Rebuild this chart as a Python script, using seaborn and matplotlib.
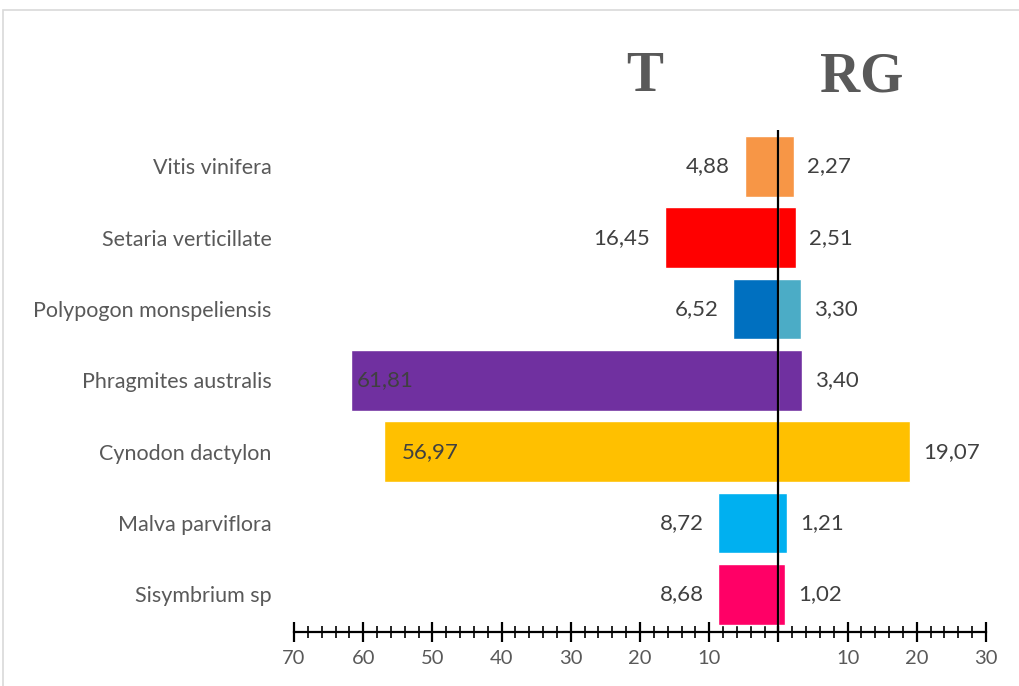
import matplotlib.pyplot as plt
import seaborn as sns
import pandas as pd
import numpy as np
from matplotlib.ticker import MultipleLocator, FuncFormatter
from matplotlib.patches import Rectangle

species = ['Vitis vinifera', 'Setaria verticillate', 'Polypogon monspeliensis',
           'Phragmites australis', 'Cynodon dactylon', 'Malva parviflora', 'Sisymbrium sp']
t_values = [4.88, 16.45, 6.52, 61.81, 56.97, 8.72, 8.68]
rg_values = [2.27, 2.51, 3.30, 3.40, 19.07, 1.21, 1.02]
t_colors = ['#F79646', '#FF0000', '#0070C0', '#7030A0', '#FFC000', '#00B0F0', '#FF0066']
rg_colors = ['#F79646', '#FF0000', '#4BACC6', '#7030A0', '#FFC000', '#00B0F0', '#FF0066']

df = pd.DataFrame({'species': species, 'T': t_values, 'RG': rg_values})
df['T_neg'] = -df['T']

sns.set_style('white')
plt.rcParams['font.family'] = ['Lato', 'DejaVu Sans']

fig = plt.figure(figsize=(10.19, 6.86), dpi=100)
ax = fig.add_axes([0.2885, 0.0787, 0.6791, 0.7318])

sns.barplot(data=df, x='T_neg', y='species', hue='species', palette=t_colors,
            width=0.85, legend=False, ax=ax, orient='h', saturation=1)
sns.barplot(data=df, x='RG', y='species', hue='species', palette=rg_colors,
            width=0.85, legend=False, ax=ax, orient='h', saturation=1)

ax.set_xlim(-70, 30)
ax.set_ylim(6.53, -0.51)
ax.axvline(0, color='black', lw=1.6)

def fmt(v):
    return f'{v:.2f}'.replace('.', ',')

for i, (t, rg) in enumerate(zip(t_values, rg_values)):
    if t > 50:
        ax.text(-t + (0.9 if t > 60 else 2.5), i, fmt(t), ha='left', va='center',
                fontsize=16, color='#404040')
    else:
        ax.text(-t - 2.1, i, fmt(t), ha='right', va='center', fontsize=16, color='#404040')
    ax.text(rg + 1.9, i, fmt(rg), ha='left', va='center', fontsize=16, color='#404040')

for s in ['top', 'right', 'left']:
    ax.spines[s].set_visible(False)
ax.spines['bottom'].set_color('black')
ax.spines['bottom'].set_linewidth(1.6)

ax.xaxis.set_major_locator(MultipleLocator(10))
ax.xaxis.set_minor_locator(MultipleLocator(2))
ax.xaxis.set_major_formatter(FuncFormatter(lambda v, p: '' if abs(v) < 1e-9 else f'{abs(v):.0f}'))
ax.tick_params(axis='x', which='major', direction='inout', length=14, width=1.6,
               color='black', labelsize=14.5, labelcolor='#595959', pad=6, bottom=True)
ax.tick_params(axis='x', which='minor', direction='inout', length=8, width=1.2,
               color='black', bottom=True)
ax.tick_params(axis='y', length=0, labelsize=15.5, labelcolor='#595959', pad=16)
ax.set_xlabel('')
ax.set_ylabel('')

fig.text(645 / 1019, 1 - 77 / 686, 'T', ha='center', va='center', fontsize=40,
         fontweight='bold', color='#595959', family='Liberation Serif')
fig.text(862 / 1019, 1 - 77 / 686, 'RG', ha='center', va='center', fontsize=40,
         fontweight='bold', color='#595959', family='Liberation Serif')

fig.patches.append(Rectangle((3 / 1019, -0.1), 1.2, 1.1 - 10 / 686, transform=fig.transFigure,
                             fill=False, edgecolor='#D9D9D9', lw=1.2))

plt.savefig('out.png', dpi=100)
